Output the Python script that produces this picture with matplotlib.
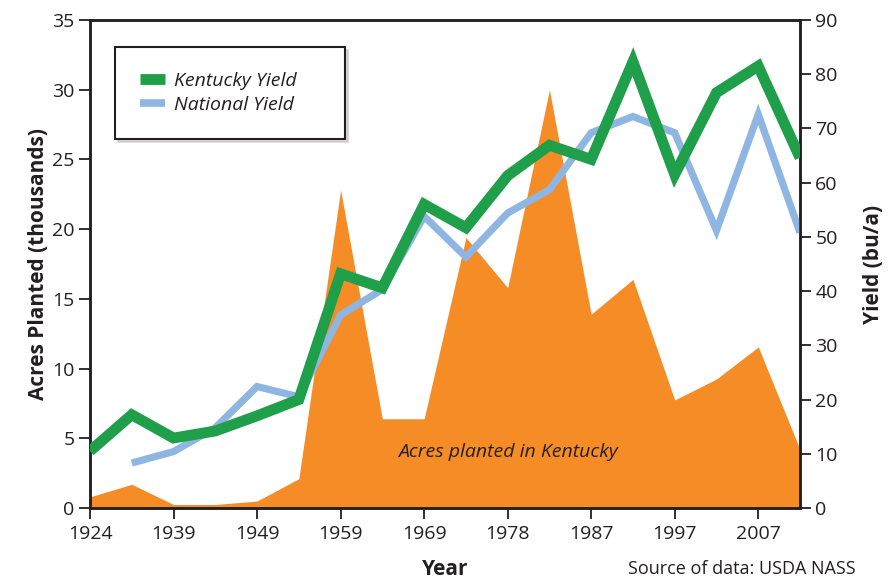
import numpy as np
import matplotlib
matplotlib.use("Agg")
import matplotlib.pyplot as plt
from matplotlib.lines import Line2D

plt.rcParams['font.family'] = ['Open Sans', 'DejaVu Sans']

# tick labels (one label every second data point)
tick_labels = ['1924', '1939', '1949', '1959', '1969', '1978', '1987', '1997', '2007']

# acres planted in Kentucky (thousands), left axis
acres = [0.8, 1.7, 0.25, 0.25, 0.5, 2.1, 22.8, 6.4, 6.4, 19.4, 15.8, 30.0,
         13.9, 16.4, 7.75, 9.25, 11.55, 4.2]

# yields (bu/a), right axis
ky_yield = [10.5, 17.2, 12.9, 14.2, 17.0, 20.0, 43.2, 40.6, 56.0, 51.7, 61.3, 66.9,
            64.3, 82.3, 61.5, 76.6, 81.5, 64.6]
us_yield = [np.nan, 8.3, 10.4, 14.8, 22.4, 20.5, 35.6, 40.3, 53.8, 46.3, 54.4, 58.7,
            69.2, 72.2, 69.2, 51.2, 72.6, 50.8]

orange = '#F58C26'
green = '#1F9F4A'
blue = '#8FB6E2'
dark = '#231F20'

x = np.arange(len(acres))

fig = plt.figure(figsize=(8.91, 5.79), dpi=100)
ax = fig.add_axes([90/891, 71/579, 710/891, 488/579])
ax2 = ax.twinx()

ax.fill_between(x, 0, acres, color=orange, lw=0, zorder=1)
ax2.plot(x, us_yield, color=blue, lw=5.2, solid_joinstyle='miter', solid_capstyle='butt', zorder=2)
ax2.plot(x, ky_yield, color=green, lw=7.8, solid_joinstyle='miter', solid_capstyle='butt', zorder=3)

ax.set_xlim(0, len(acres) - 1)
ax.set_ylim(0, 35)
ax2.set_ylim(0, 90)
ax.set_yticks(range(0, 36, 5))
ax2.set_yticks(range(0, 91, 10))
ax.set_xticks(x[::2])
ax.set_xticklabels(tick_labels)

for a in (ax, ax2):
    for s in a.spines.values():
        s.set_color(dark)
        s.set_linewidth(1.8)
    a.tick_params(colors=dark, labelsize=14, length=8, width=1.3, direction='out', pad=3)
ax.tick_params(axis='x', pad=4)

ax.set_ylabel('Acres Planted (thousands)', fontsize=15, fontweight='bold', color=dark, labelpad=2)
ax2.set_ylabel('Yield (bu/a)', fontsize=15, fontweight='bold', color=dark, labelpad=18)
ax.set_xlabel('Year', fontsize=15, fontweight='bold', color=dark, labelpad=12)

ax.text(10.0, 4.0, 'Acres planted in Kentucky', fontsize=14, style='italic',
        color=dark, ha='center', va='center', zorder=4)

fig.text(628/891, 1/579, 'Source of data: USDA NASS', fontsize=13,
         color=dark, ha='left', va='bottom')

handles = [Line2D([], [], color=green, lw=7.8, solid_capstyle='butt'),
           Line2D([], [], color=blue, lw=5.5, solid_capstyle='butt')]
leg = ax2.legend(handles, ['Kentucky Yield', 'National Yield'],
                 loc='upper left', mode='expand',
                 bbox_to_anchor=(115/891, 1 - 143/579, 230/891, 96/579),
                 bbox_transform=fig.transFigure, borderaxespad=0,
                 fancybox=False, shadow={'color': '#bbbbbb', 'alpha': 0.5},
                 prop={'size': 14, 'style': 'italic'},
                 borderpad=1.3, handlelength=1.25, handletextpad=0.5, labelspacing=0.3)
leg.get_frame().set_edgecolor(dark)
leg.get_frame().set_linewidth(1.5)
for t in leg.get_texts():
    t.set_color(dark)

fig.savefig('out.png', dpi=100)
